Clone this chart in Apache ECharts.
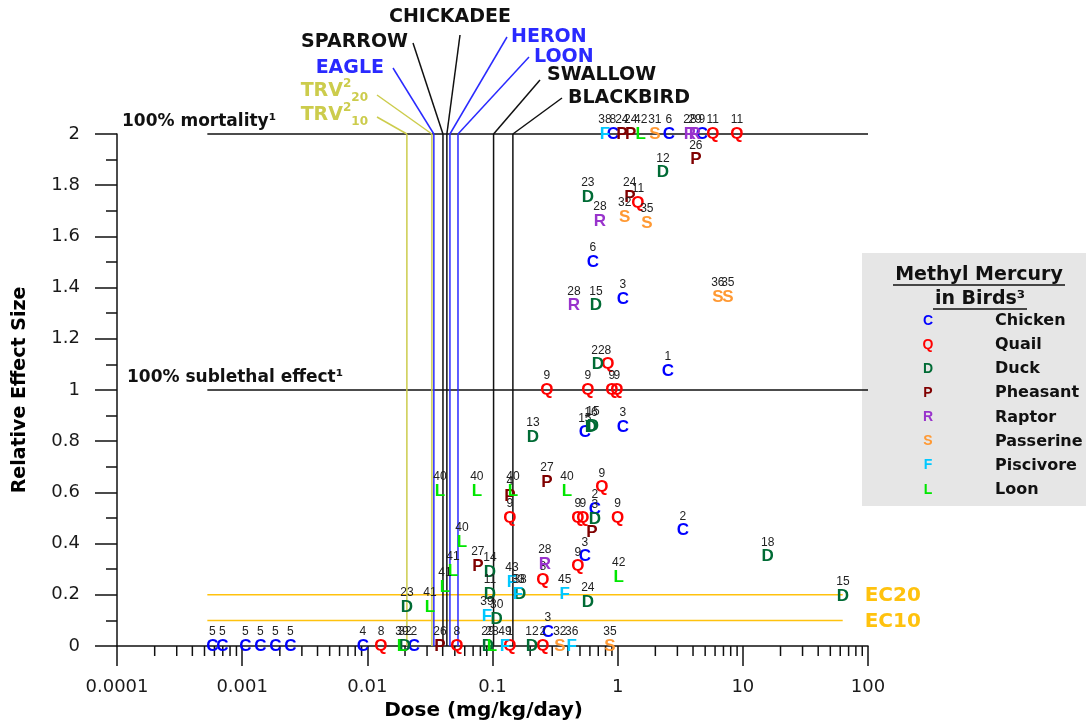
<!DOCTYPE html>
<html lang="en">
<head>
<meta charset="UTF-8">
<title>Methyl Mercury in Birds</title>
<script src="https://cdn.jsdelivr.net/npm/echarts@6.0.0/dist/echarts.min.js"></script>
<style>
    html, body { margin: 0; padding: 0; background: #fff; }
    #chart { width: 1086px; height: 726px; }
</style>
</head>
<body>
<div id="chart"></div>
<script>
    // tick labels
    const xTickLabels = ['0.0001', '0.001', '0.01', '0.1', '1', '10', '100'];
    const yTickLabels = ['0', '0.2', '0.4', '0.6', '0.8', '1', '1.2', '1.4', '1.6', '1.8', '2'];

    // [dose, effect size, reference no.]
    const chicken = [
        [0.000578, 0, '5'], [0.000695, 0, '5'], [0.00106, 0, '5'], [0.0014, 0, '5'], [0.00184, 0, '5'], [0.00243, 0, '5'],
        [0.0092, 0, '4'], [0.0235, 0, '2'], [0.277, 0.055, '3'],
        [0.916, 2, '8'], [2.56, 2, '6'], [4.7, 2, '9'],
        [0.634, 1.5, '6'], [1.10, 1.355, '3'], [2.52, 1.074, '1'],
        [0.547, 0.835, '15'], [1.10, 0.855, '3'], [0.658, 0.535, '2'], [3.32, 0.45, '2'], [0.547, 0.35, '3']
    ];
    const quail = [
        [0.01285, 0, '8'], [0.052, 0, '8'], [0.1377, 0, '1'], [0.253, 0, '2'],
        [5.75, 2, '11'], [8.96, 2, '11'], [1.45, 1.73, '11'], [0.835, 1.10, '8'],
        [0.272, 1.0, '9'], [0.578, 1.0, '9'], [0.899, 1.0, '9'], [0.986, 1.0, '9'],
        [0.748, 0.62, '9'], [0.1377, 0.50, '9'], [0.481, 0.50, '9'], [0.527, 0.50, '9'], [1.0, 0.50, '9'],
        [0.481, 0.31, '9'], [0.253, 0.255, '8']
    ];
    const duck = [
        [0.0200, 0, '32'], [0.0919, 0, '29'], [0.2066, 0, '12'],
        [2.30, 1.85, '12'], [0.578, 1.754, '23'], [0.670, 1.33, '15'], [0.695, 1.10, '22'],
        [0.611, 0.855, '16'], [0.634, 0.86, '15'], [0.2104, 0.816, '13'], [0.658, 0.496, '3'],
        [0.0953, 0.289, '14'], [0.0953, 0.203, '11'], [0.166, 0.203, '38'], [0.578, 0.172, '24'],
        [0.0207, 0.152, '23'], [0.108, 0.105, '30'], [15.8, 0.35, '18'], [63, 0.195, '15']
    ];
    const pheasant = [
        [0.038, 0, '26'], [1.08, 2, '24'], [1.27, 2, '24'], [4.21, 1.90, '26'], [1.25, 1.754, '24'],
        [0.272, 0.64, '27'], [0.1377, 0.586, '4'], [0.622, 0.445, ''], [0.0764, 0.3125, '27']
    ];
    const raptor = [
        [3.78, 2, '28'], [4.14, 2, '29'], [0.721, 1.66, '28'], [0.447, 1.33, '28'], [0.262, 0.32, '28']
    ];
    const passerine = [
        [1.98, 2, '31'], [1.14, 1.676, '32'], [1.71, 1.652, '35'], [6.31, 1.363, '36'], [7.59, 1.363, '35'],
        [0.345, 0, '32'], [0.867, 0, '35']
    ];
    const piscivore = [
        [0.791, 2, '38'], [0.143, 0.25, '43'], [0.378, 0.203, '45'], [0.160, 0.203, '33'],
        [0.0902, 0.117, '39'], [0.1256, 0, '49'], [0.43, 0, '36']
    ];
    const loon = [
        [1.53, 2, '42'], [0.0189, 0, '39'], [0.0989, 0, '28'],
        [0.038, 0.605, '40'], [0.075, 0.605, '40'], [0.1455, 0.605, '40'], [0.393, 0.605, '40'],
        [0.057, 0.406, '40'], [0.0483, 0.293, '41'], [0.0417, 0.23, '41'], [0.0316, 0.152, '41'],
        [1.02, 0.27, '42']
    ];

    const speciesNames = ['Chicken', 'Quail', 'Duck', 'Pheasant', 'Raptor', 'Passerine', 'Piscivore', 'Loon'];
    const speciesLetters = ['C', 'Q', 'D', 'P', 'R', 'S', 'F', 'L'];
    const speciesColors = ['#0000ff', '#ff0000', '#006b35', '#800000', '#9933cc', '#ff9933', '#00c8ff', '#00e600'];
    const speciesData = [chicken, quail, duck, pheasant, raptor, passerine, piscivore, loon];

    // species TRV lines
    const thresholdNames = ['TRV', 'TRV', 'EAGLE', 'SPARROW', 'CHICKADEE', 'HERON', 'LOON', 'SWALLOW', 'BLACKBIRD'];
    const thresholdSubs = ['10', '20', '', '', '', '', '', '', ''];
    const thresholdDoses = [0.0207, 0.0328, 0.034, 0.0402, 0.0432, 0.0457, 0.053, 0.102, 0.1455];
    const thresholdColors = ['#cccc4c', '#cccc4c', '#2a2aff', '#111', '#111', '#2a2aff', '#2a2aff', '#111', '#111'];
    // leader end, label anchor, align (pixels)
    const thresholdLayout = [
        [[377, 117], [368, 115], 'right'],
        [[377, 95], [368, 91], 'right'],
        [[393, 68], [384, 68], 'right'],
        [[413, 43], [408, 42], 'right'],
        [[460, 35], [450, 17], 'center'],
        [[507, 37], [511, 37], 'left'],
        [[529, 57], [534, 57], 'left'],
        [[540, 80], [547, 75], 'left'],
        [[562, 98], [568, 98], 'left']
    ];

    // horizontal reference lines
    const refLineNames = ['100% mortality¹', '100% sublethal effect¹', 'EC20', 'EC10'];
    const refLineValues = [2, 1, 0.2, 0.1];
    const refLineStarts = [0.000527, 0.000527, 0.000527, 0.000527];
    const refLineEnds = [100, 100, 62.8, 62.8];
    const refLineColors = ['#111', '#111', '#ffc20e', '#ffc20e'];

    const minorTicks = [];
    for (let k = -4; k < 2; k++) {
        for (let m = 2; m <= 9; m++) minorTicks.push(m * Math.pow(10, k));
    }

    const FONT = '"DejaVu Sans", sans-serif';
    const ARIAL = '"Liberation Sans", Arial, sans-serif';

    const myChart = echarts.init(document.getElementById('chart'));

    function speciesSeries(i) {
        const pts = speciesData[i];
        return {
            type: 'custom',
            name: speciesNames[i],
            z: 5,
            data: pts.map(p => [p[0], p[1]]),
            encode: { x: 0, y: 1 },
            renderItem: function (params, api) {
                const c = api.coord([api.value(0), api.value(1)]);
                return {
                    type: 'group',
                    children: [
                        { type: 'text', x: c[0], y: c[1] - 14,
                          style: { text: pts[params.dataIndex][2], fill: '#222', font: '12px ' + ARIAL,
                                   align: 'center', verticalAlign: 'middle' } },
                        { type: 'text', x: c[0], y: c[1],
                          style: { text: speciesLetters[i], fill: speciesColors[i], font: 'bold 17px ' + ARIAL,
                                   align: 'center', verticalAlign: 'middle' } }
                    ]
                };
            }
        };
    }

    const thresholdSeries = {
        type: 'custom',
        z: 3,
        silent: true,
        data: thresholdDoses.map(v => [v, 2]),
        encode: { x: 0, y: 1 },
        renderItem: function (params, api) {
            const i = params.dataIndex;
            const top = api.coord([api.value(0), 2]);
            const bot = api.coord([api.value(0), 0]);
            const lay = thresholdLayout[i];
            const col = thresholdColors[i];
            let label;
            if (thresholdSubs[i]) {
                label = {
                    text: '{m|' + thresholdNames[i] + '}{s|2}{b|' + thresholdSubs[i] + '}',
                    rich: {
                        m: { fill: col, font: 'bold 19px ' + FONT, lineHeight: 26 },
                        s: { fill: col, font: 'bold 12px ' + FONT, lineHeight: 12, verticalAlign: 'top' },
                        b: { fill: col, font: 'bold 12px ' + FONT, lineHeight: 12, verticalAlign: 'bottom' }
                    }
                };
            } else {
                label = { text: thresholdNames[i], fill: col, font: 'bold 19px ' + FONT };
            }
            label.align = lay[2];
            label.verticalAlign = 'middle';
            return {
                type: 'group',
                children: [
                    { type: 'line', shape: { x1: top[0], y1: top[1], x2: bot[0], y2: bot[1] },
                      style: { stroke: col, lineWidth: 1.5 } },
                    { type: 'line', shape: { x1: top[0], y1: top[1], x2: lay[0][0], y2: lay[0][1] },
                      style: { stroke: col, lineWidth: 1.5 } },
                    { type: 'text', x: lay[1][0], y: lay[1][1], style: label }
                ]
            };
        }
    };

    const refLineSeries = {
        type: 'custom',
        z: 2,
        silent: true,
        data: refLineValues.map((v, i) => [refLineStarts[i], v]),
        encode: { x: 0, y: 1 },
        renderItem: function (params, api) {
            const i = params.dataIndex;
            const a = api.coord([refLineStarts[i], refLineValues[i]]);
            const b = api.coord([refLineEnds[i], refLineValues[i]]);
            const left = api.coord([0.0001, refLineValues[i]]);
            const col = refLineColors[i];
            let text;
            if (i < 2) {
                text = { type: 'text', x: left[0] + (i === 0 ? 5 : 10), y: a[1] - 12,
                         style: { text: refLineNames[i], fill: '#111', font: 'bold 17px ' + FONT,
                                  align: 'left', verticalAlign: 'middle' } };
            } else {
                text = { type: 'text', x: b[0] + 22, y: a[1] + 1,
                         style: { text: refLineNames[i], fill: col, font: 'bold 20px ' + FONT,
                                  align: 'left', verticalAlign: 'middle' } };
            }
            return {
                type: 'group',
                children: [
                    { type: 'line', shape: { x1: a[0], y1: a[1], x2: b[0], y2: b[1] },
                      style: { stroke: col, lineWidth: 1.5 } },
                    text
                ]
            };
        }
    };

    const minorTickSeries = {
        type: 'custom',
        z: 1,
        silent: true,
        data: minorTicks.map(v => [v, 0]),
        encode: { x: 0, y: 1 },
        renderItem: function (params, api) {
            const c = api.coord([api.value(0), 0]);
            return { type: 'line', shape: { x1: c[0], y1: c[1], x2: c[0], y2: c[1] + 10 },
                     style: { stroke: '#111', lineWidth: 1.5 } };
        }
    };

    // legend box
    const legendEls = [
        { type: 'rect', shape: { x: 862, y: 253, width: 224, height: 253 }, style: { fill: '#e6e6e6' } },
        { type: 'text', x: 979, y: 275, style: { text: 'Methyl Mercury', fill: '#111', font: 'bold 19px ' + FONT,
          align: 'center', verticalAlign: 'middle' } },
        { type: 'line', shape: { x1: 893, y1: 285, x2: 1065, y2: 285 }, style: { stroke: '#111', lineWidth: 1.5 } },
        { type: 'text', x: 980, y: 299, style: { text: 'in Birds³', fill: '#111', font: 'bold 19px ' + FONT,
          align: 'center', verticalAlign: 'middle' } },
        { type: 'line', shape: { x1: 933, y1: 309, x2: 1027, y2: 309 }, style: { stroke: '#111', lineWidth: 1.5 } }
    ];
    speciesNames.forEach((n, i) => {
        const y = 321 + i * 24.1;
        legendEls.push({ type: 'text', x: 928, y: y, style: { text: speciesLetters[i], fill: speciesColors[i],
            font: 'bold 14px ' + ARIAL, align: 'center', verticalAlign: 'middle' } });
        legendEls.push({ type: 'text', x: 995, y: y, style: { text: n, fill: '#111',
            font: 'bold 16px ' + FONT, align: 'left', verticalAlign: 'middle' } });
    });

    const option = {
        animation: false,
        backgroundColor: '#fff',
        textStyle: { fontFamily: FONT },
        grid: { left: 117, right: 218, top: 134, bottom: 79 },
        xAxis: {
            type: 'log',
            logBase: 10,
            min: 0.0001,
            max: 100,
            splitNumber: 6,
            name: 'Dose (mg/kg/day)',
            nameLocation: 'middle',
            nameGap: 55,
            nameTextStyle: { fontSize: 20, fontWeight: 'bold', color: '#000', padding: [0, 18, 0, 0] },
            axisLine: { lineStyle: { color: '#111', width: 1.5 } },
            axisTick: { length: 20, lineStyle: { color: '#111', width: 1.5 } },
            axisLabel: {
                fontSize: 18, color: '#1a1a1a', margin: 32,
                formatter: v => xTickLabels[Math.round(Math.log10(v)) + 4]
            },
            splitLine: { show: false }
        },
        yAxis: {
            type: 'value',
            min: 0,
            max: 2,
            interval: 0.2,
            name: 'Relative Effect Size',
            nameLocation: 'middle',
            nameGap: 87,
            nameTextStyle: { fontSize: 19, fontWeight: 'bold', color: '#000' },
            axisLine: { show: true, lineStyle: { color: '#111', width: 1.5 } },
            axisTick: { show: true, length: 22, lineStyle: { color: '#111', width: 1.5 } },
            minorTick: { show: true, splitNumber: 2, length: 11, lineStyle: { color: '#111', width: 1.5 } },
            axisLabel: {
                fontSize: 18, color: '#1a1a1a', margin: 37,
                formatter: v => yTickLabels[Math.round(v / 0.2)]
            },
            splitLine: { show: false }
        },
        graphic: legendEls,
        series: [minorTickSeries, refLineSeries, thresholdSeries].concat(speciesNames.map((n, i) => speciesSeries(i)))
    };

    myChart.setOption(option);
</script>
</body>
</html>
